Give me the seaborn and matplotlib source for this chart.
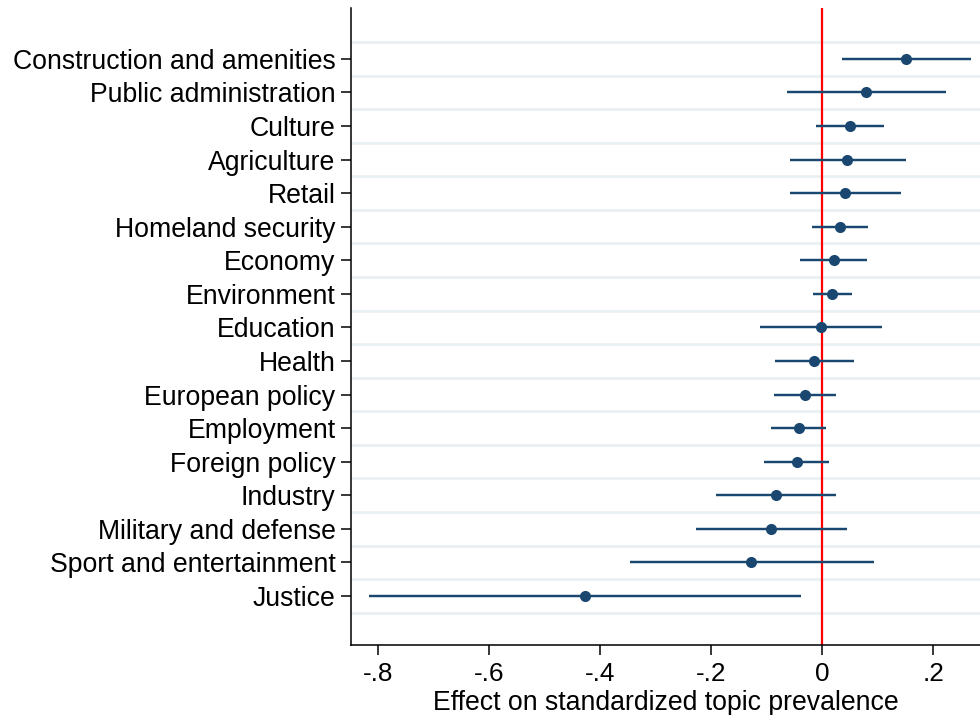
import matplotlib
matplotlib.use("Agg")
import matplotlib.pyplot as plt
import seaborn as sns
import pandas as pd
import numpy as np

topics = ["Construction and amenities", "Public administration", "Culture", "Agriculture",
          "Retail", "Homeland security", "Economy", "Environment", "Education", "Health",
          "European policy", "Employment", "Foreign policy", "Industry",
          "Military and defense", "Sport and entertainment", "Justice"]
coef = [0.150, 0.079, 0.050, 0.045, 0.041, 0.031, 0.020, 0.018, -0.003, -0.015,
        -0.031, -0.042, -0.046, -0.084, -0.092, -0.128, -0.428]
ci_lo = [0.035, -0.063, -0.011, -0.058, -0.058, -0.018, -0.040, -0.017, -0.113, -0.086,
         -0.087, -0.092, -0.105, -0.191, -0.227, -0.347, -0.817]
ci_hi = [0.268, 0.222, 0.111, 0.150, 0.141, 0.082, 0.081, 0.054, 0.108, 0.057,
         0.024, 0.007, 0.012, 0.024, 0.044, 0.093, -0.039]
xticks = [-0.8, -0.6, -0.4, -0.2, 0.0, 0.2]
xtick_labels = ["-.8", "-.6", "-.4", "-.2", "0", ".2"]

df = pd.DataFrame({"topic": topics, "coef": coef, "lo": ci_lo, "hi": ci_hi})

sns.set_theme(style="white")
plt.rcParams["font.family"] = ["Liberation Sans", "DejaVu Sans"]
plt.rcParams["text.color"] = "black"
plt.rcParams["axes.labelcolor"] = "black"
plt.rcParams["xtick.color"] = "black"
plt.rcParams["ytick.color"] = "black"

fig = plt.figure(figsize=(9.8, 7.15), dpi=100)
ax = fig.add_axes([0.358, 0.098, 0.642, 0.891])

navy = "#1a476f"
ypos = np.arange(len(topics))

# gridlines between rows
for g in np.arange(-0.5, len(topics), 1.0):
    ax.axhline(g, color="#e8f0f2", lw=1.8, zorder=0)

ax.axvline(0, color="#ff0000", lw=1.6, zorder=1)
ax.hlines(ypos, df["lo"], df["hi"], color=navy, lw=1.75, zorder=2)
sns.scatterplot(x=df["coef"], y=ypos, ax=ax, color=navy, s=64, edgecolor=navy,
                linewidth=0, zorder=3, legend=False)

ax.set_xlim(-0.8495, 0.2838)
ax.set_ylim(17.46, -1.52)
ax.set_yticks(ypos)
ax.set_yticklabels(topics)
ax.set_xticks(xticks)
ax.set_xticklabels(xtick_labels)
ax.set_ylabel("")
ax.set_xlabel("Effect on standardized topic prevalence", fontsize=19.2, labelpad=3.5,
              color="black")

for s in ["top", "right"]:
    ax.spines[s].set_visible(False)
for s in ["left", "bottom"]:
    ax.spines[s].set_color("black")
    ax.spines[s].set_linewidth(1.1)

ax.tick_params(axis="y", which="major", direction="out", length=7, width=1.1,
               color="black", labelcolor="black", labelsize=19.2, pad=4, left=True)
ax.tick_params(axis="x", which="major", direction="out", length=7, width=1.1,
               color="black", labelcolor="black", labelsize=18.8, pad=5, bottom=True)

fig.savefig("out.png", dpi=100)
